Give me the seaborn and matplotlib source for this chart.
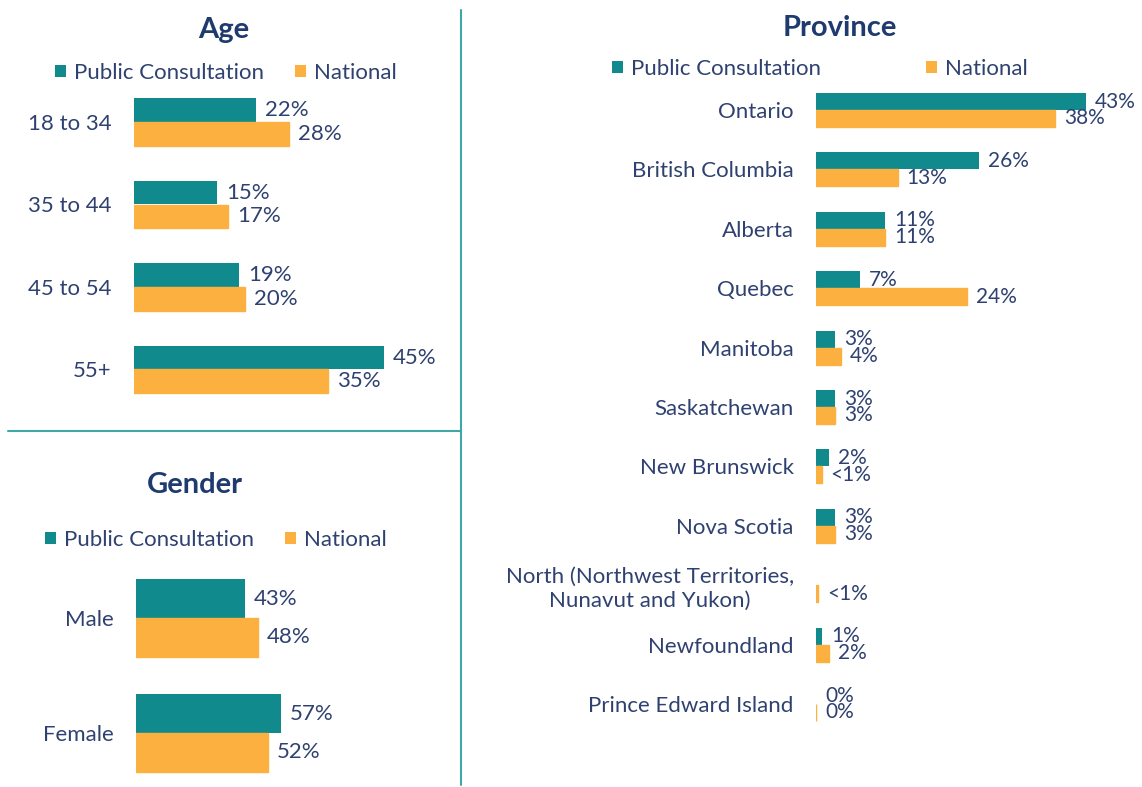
import numpy as np
import pandas as pd
import seaborn as sns
import matplotlib.pyplot as plt
from matplotlib.patches import Patch
from matplotlib.lines import Line2D

# ---- data ----
series = ["Public Consultation", "National"]

age_groups = ["18 to 34", "35 to 44", "45 to 54", "55+"]
age_public = [22, 15, 19, 45]
age_national = [28, 17, 20, 35]

gender_groups = ["Male", "Female"]
gender_public = [43, 57]
gender_national = [48, 52]

provinces = ["Ontario", "British Columbia", "Alberta", "Quebec", "Manitoba",
             "Saskatchewan", "New Brunswick", "Nova Scotia",
             "North (Northwest Territories,\nNunavut and Yukon)",
             "Newfoundland", "Prince Edward Island"]
prov_public = [43, 26, 11, 7, 3, 3, 2, 3, np.nan, 1, 0]
prov_national = [38, 13, 11, 24, 4, 3, 0.9, 3, 0.3, 2, 0]

# ---- style ----
TEAL = "#108A8C"
ORANGE = "#FBB040"
TEXT = "#2E4170"
TITLE = "#1F3A6E"
RULE = "#3FA7A6"
FONT = ["Lato", "DejaVu Sans"]
FS = 16
TITLE_FS = 21

sns.set_theme(style="white")
plt.rcParams["font.family"] = FONT
plt.rcParams["text.color"] = TEXT

W, H = 1142, 787
fig = plt.figure(figsize=(W / 100, H / 100), dpi=100)
fig.patch.set_facecolor("white")


def px_axes(left, top, right, bottom):
    return fig.add_axes([left / W, 1 - bottom / H, (right - left) / W, (bottom - top) / H])


def long_form(cats, pub, nat):
    return pd.DataFrame({
        "group": list(cats) * 2,
        "series": [series[0]] * len(cats) + [series[1]] * len(cats),
        "value": list(pub) + list(nat),
    })


def pct(v):
    if v is None or np.isnan(v):
        return ""
    if 0 < v < 1:
        return "<1%"
    return f"{v:.0f}%"


def draw_panel(ax, cats, pub, nat, width, xmax, ylim, value_fs=FS):
    df = long_form(cats, pub, nat)
    sns.barplot(data=df, x="value", y="group", hue="series", orient="h",
                palette=[TEAL, ORANGE], width=width, saturation=1,
                legend=False, ax=ax)
    ax.set_xlim(0, xmax)
    ax.set_ylim(*ylim)
    for spine in ax.spines.values():
        spine.set_visible(False)
    ax.set_xticks([])
    ax.set_xlabel("")
    ax.set_ylabel("")
    ax.tick_params(axis="y", length=0, pad=16, labelsize=FS, labelcolor=TEXT)
    for lbl in ax.get_yticklabels():
        lbl.set_multialignment("center")
    for i, cont in enumerate(ax.containers):
        for bar in cont:
            bar.set_edgecolor(ORANGE if i == 1 else "none")
            bar.set_linewidth(1.0 if i == 1 else 0)
        ax.bar_label(cont, fmt=pct, padding=6.5, fontsize=value_fs, color=TEXT)


def legend_at(cx, cy, spacing):
    handles = [Patch(facecolor=TEAL, edgecolor="none"), Patch(facecolor=ORANGE, edgecolor="none")]
    fig.legend(handles, series, loc="center", bbox_to_anchor=(cx / W, 1 - cy / H),
               ncol=2, frameon=False, fontsize=FS, handlelength=0.5, handleheight=0.5,
               handletextpad=0.36, columnspacing=spacing, labelcolor=TEXT)


def title_at(cx, cy, text):
    fig.text(cx / W, 1 - cy / H, text, ha="center", va="center",
             fontsize=TITLE_FS, fontweight="bold", color=TITLE)


# Age
ax_age = px_axes(134, 80.75, 134 + 5.55 * 55, 410.75)
draw_panel(ax_age, age_groups, age_public, age_national, 0.57, 55, (3.5, -0.5))
title_at(224, 30, "Age")
legend_at(226, 73, 1.4)

# Gender
ax_gen = px_axes(136, 560.5, 136 + 2.54 * 80, 787)
draw_panel(ax_gen, gender_groups, gender_public, gender_national, 0.67, 80,
           (-0.5 + 226.5 / 115, -0.5))
title_at(195, 485, "Gender")
legend_at(216, 540, 1.4)

# Province
ax_prov = px_axes(816, 80.3, 816 + 6.28 * 50, 733.7)
draw_panel(ax_prov, provinces, prov_public, prov_national, 0.57, 50, (10.5, -0.5),
           value_fs=15)
title_at(840, 28, "Province")
legend_at(820, 69, 4.7)

# panel dividers
fig.add_artist(Line2D([461 / W, 461 / W], [1 - 10 / H, 1 - 785 / H], color=RULE, lw=1.5))
fig.add_artist(Line2D([8 / W, 461 / W], [1 - 431 / H, 1 - 431 / H], color=RULE, lw=1.5))

fig.savefig("out.png", dpi=100, facecolor="white")
